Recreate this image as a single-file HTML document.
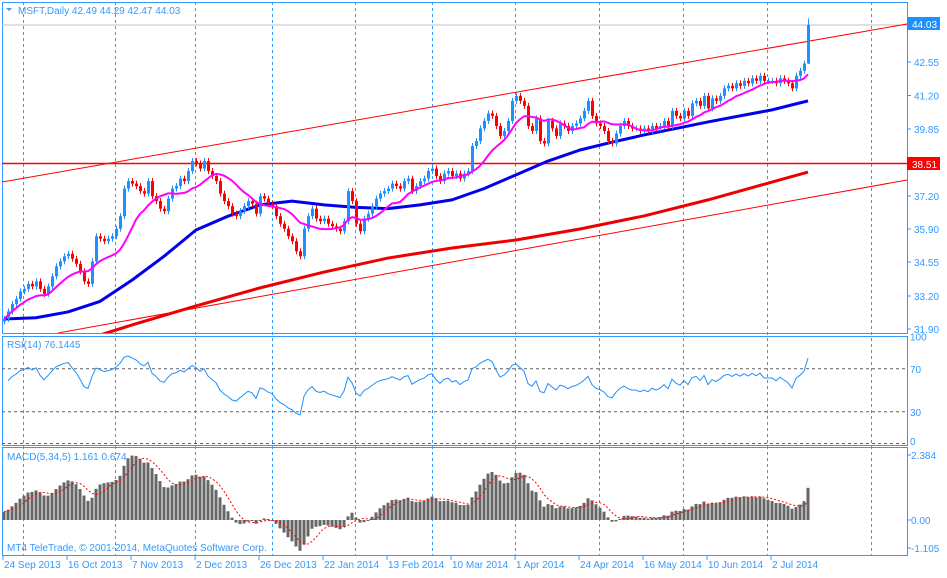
<!DOCTYPE html>
<html><head><meta charset="utf-8"><style>
body{margin:0;background:#fff;width:947px;height:573px;overflow:hidden;font-family:"Liberation Sans",sans-serif}
svg text{font-family:"Liberation Sans",sans-serif;font-size:10px;fill:#3399ff}
</style></head><body>
<svg id="c" width="947" height="573" xmlns="http://www.w3.org/2000/svg"></svg>
<script>
const closes=[32.3,32.6,32.9,33.1,33.4,33.5,33.7,33.6,33.8,33.5,33.3,33.6,34.0,34.4,34.6,34.8,
34.9,34.7,34.5,34.2,33.8,33.7,34.6,35.6,35.5,35.4,35.5,35.6,35.9,36.4,37.5,37.8,
37.7,37.6,37.4,37.3,37.8,37.2,37.0,36.7,36.6,37.1,37.5,37.6,37.9,37.8,38.2,38.6,
38.5,38.3,38.6,38.2,38.0,37.8,37.3,37.0,36.8,36.5,36.4,36.6,36.8,37.0,36.9,36.5,
37.2,37.1,36.9,36.8,36.4,36.1,35.9,35.6,35.4,35.0,34.8,35.9,36.4,36.7,36.3,36.2,
36.3,36.1,36.0,35.9,35.8,36.2,37.4,37.0,36.1,35.8,36.3,36.5,36.8,37.1,37.3,37.4,
37.5,37.7,37.6,37.5,37.8,37.9,37.4,37.6,37.8,37.9,38.2,38.3,38.0,37.8,38.1,38.2,
38.0,38.1,37.9,38.1,38.2,39.2,39.4,39.9,40.2,40.5,40.4,40.0,39.6,39.8,40.2,41.0,
41.2,41.0,40.8,40.0,39.8,40.3,39.4,39.3,40.2,39.9,39.6,40.1,40.0,39.8,40.0,40.1,
40.3,40.6,41.0,40.4,40.1,40.0,39.8,39.4,39.3,39.7,40.0,40.2,40.0,39.9,39.9,39.8,
39.9,39.8,40.0,39.9,40.0,40.2,40.0,40.6,40.4,40.3,40.6,40.4,40.9,41.0,40.8,41.2,
40.7,41.1,41.0,41.2,41.5,41.6,41.5,41.7,41.6,41.8,41.7,41.9,41.8,42.0,41.8,41.8,
41.8,41.7,41.9,41.8,41.7,41.5,42.0,42.2,42.49,44.03];
const lastOHLC=[42.49,44.29,42.47,44.03];
const blueMA=[32.3,32.35,32.58,33.0,33.85,34.8,35.85,36.4,36.85,37.0,36.85,36.75,36.7,36.85,37.05,37.5,38.05,38.6,39.04,39.35,39.64,39.9,40.16,40.4,40.64];
const blueEnd=41.0;
const redMA=[null,31.26,32.06,32.82,33.54,34.17,34.73,35.13,35.45,35.89,36.41,37.05,37.76];
const redEnd=38.16;
const dateLabels=["24 Sep 2013","16 Oct 2013","7 Nov 2013","2 Dec 2013","26 Dec 2013","22 Jan 2014","13 Feb 2014","10 Mar 2014","1 Apr 2014","24 Apr 2014","16 May 2014","10 Jun 2014","2 Jul 2014"];
const priceTicks=["42.55","41.20","39.85","37.20","35.90","34.55","33.20","31.90"];
const rsiTicks=[100,70,30,0];
const macdTicks=["2.384","0.00","-1.105"];

const svg=document.getElementById('c');const NS='http://www.w3.org/2000/svg';
function el(t,a,p){const e=document.createElementNS(NS,t);for(const k in a)e.setAttribute(k,a[k]);(p||svg).appendChild(e);return e;}
const xB=i=>4+4*i;
const yP=p=>329-(p-31.90)*25.07;
const yR=v=>444-v*1.075;
const yM=v=>520-v*27.3;
const N=closes.length;

const defs=el('defs',{});
const cp=el('clipPath',{id:'cm'},defs);el('rect',{x:2,y:2,width:905,height:331},cp);
[23,115,195,272,355,432,515,599,683,767,871].forEach(x=>{
 const g=el('line',{x1:x+.5,y1:2,x2:x+.5,y2:555,stroke:'#3399ff','stroke-dasharray':'3,3','stroke-width':1});
 });
[[2,2,905,331],[2,336,905,109],[2,447,905,108]].forEach((r,i)=>{
 const p=el('rect',{x:r[0]+.5,y:r[1]+.5,width:r[2],height:r[3],fill:'none',stroke:'#3399ff'});
 });
el('line',{x1:2,y1:25,x2:907,y2:25,stroke:'#c0c0c0'});
const main=el('g',{'clip-path':'url(#cm)'});
el('line',{x1:2,y1:182,x2:907,y2:24,stroke:'#ff0000'},main);
el('line',{x1:58,y1:333,x2:907,y2:180,stroke:'#ff0000'},main);
el('line',{x1:2,y1:163.5,x2:907,y2:163.5,stroke:'#ff0000','stroke-width':1.5},main);
let pts=[];redMA.forEach((v,k)=>{if(v!==null)pts.push(xB(16*k)+','+yP(v));});pts.push(xB(N-1)+','+yP(redEnd));
const rl=el('polyline',{points:pts.join(' '),fill:'none',stroke:'#ee0000','stroke-width':3},main);

pts=blueMA.map((v,k)=>xB(8*k)+','+yP(v));pts.push(xB(N-1)+','+yP(blueEnd));
const bl=el('polyline',{points:pts.join(' '),fill:'none',stroke:'#0000ee','stroke-width':3,'stroke-linejoin':'round'},main);

for(let i=0;i<N;i++){
 let o,h,l,c=closes[i];
 if(i===N-1){[o,h,l,c]=lastOHLC;}else{o=i?closes[i-1]:c-0.1;h=Math.max(o,c)+0.12;l=Math.min(o,c)-0.12;}
 const col=c>=o?'#1e90ff':'#ff0000';const x=xB(i);
 const g=el('g',{},main);
 el('line',{x1:x+.5,y1:yP(h),x2:x+.5,y2:yP(l),stroke:col},g);
 const t=Math.min(yP(o),yP(c));el('rect',{x:x-1,y:t,width:3,height:Math.max(1,Math.abs(yP(o)-yP(c))),fill:col},g);
}
pts=[];for(let i=0;i<N;i++){const s=closes.slice(Math.max(0,i-11),i+1);pts.push(xB(i)+','+yP(s.reduce((a,b)=>a+b,0)/s.length));}
const pl=el('polyline',{points:pts.join(' '),fill:'none',stroke:'#ff00ff','stroke-width':2},main);

const tt=el('text',{x:18,y:14});tt.textContent='MSFT,Daily  42.49 44.29 42.47 44.03';
el('path',{d:'M6 8 L12 8 L9 11 Z',fill:'#3399ff'});
[[62,0],[95.5,1],[129,2],[196,3],[229,4],[262,5],[296,6],[329,7]].forEach(a=>{
 el('line',{x1:907,y1:a[0],x2:911,y2:a[0],stroke:'#3399ff'});
 const t=el('text',{x:914,y:a[0]+4});t.textContent=priceTicks[a[1]];});
el('rect',{x:907,y:17,width:33,height:13,fill:'#1e90ff'});
const lp=el('text',{x:912,y:28,style:'fill:#fff'});lp.textContent='44.03';
el('rect',{x:907,y:157,width:33,height:13,fill:'#ff0000'});
const lv=el('text',{x:912,y:168,style:'fill:#fff'});lv.textContent='38.51';
let ag=0.12,al=0.1;const rsi=[];
for(let i=1;i<N;i++){const d=closes[i]-closes[i-1];const g=Math.max(d,0),l=Math.max(-d,0);
 ag=(ag*13+g)/14;al=(al*13+l)/14;
 rsi.push(100-100/(1+ag/al));}
[70,30].forEach(v=>el('line',{x1:2,y1:yR(v),x2:907,y2:yR(v),stroke:'#606060','stroke-dasharray':'3,3'}));
el('line',{x1:2,y1:443.5,x2:907,y2:443.5,stroke:'#606060','stroke-dasharray':'3,3'});
const rp=el('polyline',{points:rsi.map((v,i)=>xB(i+1)+','+yR(v)).join(' '),fill:'none',stroke:'#1e90ff'});

const rt=el('text',{x:7,y:348});rt.textContent='RSI(14) 76.1445';
rsiTicks.forEach(v=>{const t=el('text',{x:910,y:yR(v)+4-(v===0?3:0)});t.textContent=v;});
function ema(a,n){const k=2/(n+1);const r=[];a.forEach((v,i)=>r.push(i?v*k+r[i-1]*(1-k):v));return r;}
const e5=ema(closes,5),e34=ema(closes,34);const macd=closes.map((_,i)=>e5[i]-e34[i]+0.3*Math.max(0,1-i/40));
const sig=macd.map((_,i)=>{const s=macd.slice(Math.max(0,i-4),i+1);return s.reduce((a,b)=>a+b,0)/s.length;});
for(let i=0;i<N;i++){const y0=yM(0),y1=yM(macd[i]);
 const b=el('rect',{x:xB(i)-1.5,y:Math.min(y0,y1),width:3,height:Math.max(1,Math.abs(y1-y0)),fill:'#666666'});
 }
const sp=el('polyline',{points:sig.map((v,i)=>xB(i)+','+yM(v)).join(' '),fill:'none',stroke:'#ff0000','stroke-dasharray':'2,2'});

const mt=el('text',{x:7,y:460});mt.textContent='MACD(5,34,5) 1.161 0.674';
[455,520,548].forEach((y,k)=>{el('line',{x1:907,y1:y,x2:911,y2:y,stroke:'#3399ff'});const t=el('text',{x:911,y:y+4});t.textContent=macdTicks[k];});
const cr=el('text',{x:7,y:551});cr.textContent='MT4 TeleTrade, © 2001-2014, MetaQuotes Software Corp.';
dateLabels.forEach((d,k)=>{const x=3+64*k;el('line',{x1:x,y1:555,x2:x,y2:560,stroke:'#3399ff'});
 const t=el('text',{x:x+1,y:568});t.textContent=d;});
</script>
</body></html>
